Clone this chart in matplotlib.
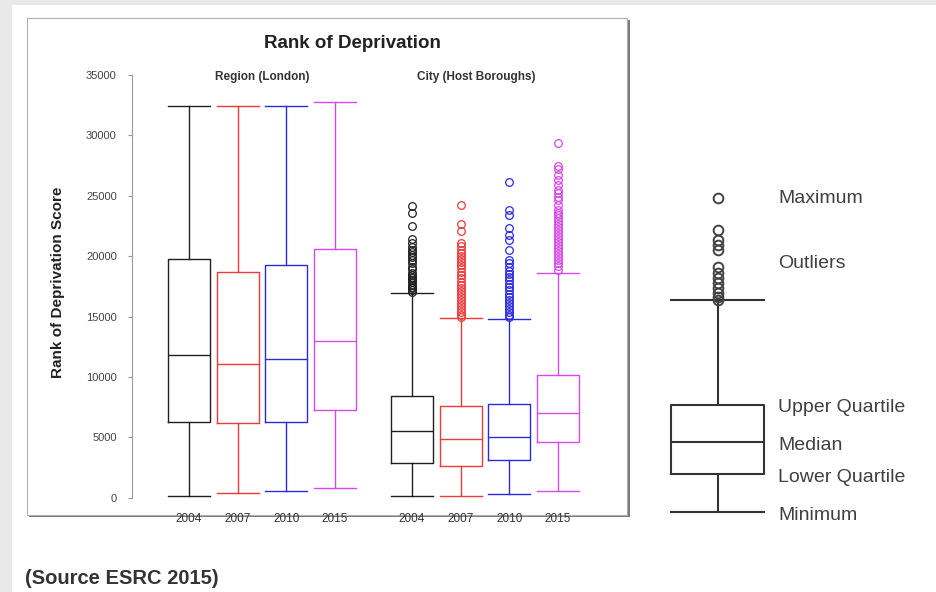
"""
Rank of Deprivation box plots (Region vs City) with an explanatory key.
"""
import matplotlib
matplotlib.use("Agg")
import matplotlib.pyplot as plt
from matplotlib.patches import Rectangle

plt.rcParams["font.family"] = ["Liberation Sans", "DejaVu Sans"]

# Box plot summaries
years = ["2004", "2007", "2010", "2015"]
colors = ["#202020", "#ee3a3a", "#2a2ae0", "#d54ae8"]

region_min = [150, 390, 580, 780]
region_q1 = [6290, 6160, 6290, 7260]
region_med = [11790, 11100, 11480, 12980]
region_q3 = [19770, 18710, 19240, 20590]
region_max = [32460, 32430, 32430, 32790]

city_min = [170, 170, 330, 580]
city_q1 = [2870, 2630, 3100, 4640]
city_med = [5500, 4840, 5030, 7010]
city_q3 = [8450, 7570, 7760, 10160]
city_whishi = [16920, 14880, 14800, 18600]

city_out_2004 = [24150, 23600, 22520, 21420, 21090, 20760, 20500, 20370, 20100,
                 19900, 19680, 19400, 19130, 18900, 18600, 18450, 18300, 18150,
                 18030, 17850, 17610, 17480, 17360, 17200, 17060]
city_out_2007 = [24235, 22660, 22110, 21090, 20800, 20500, 20250, 20000, 19750,
                 19500, 19250, 19000, 18700, 18450, 18200, 17900, 17650, 17400,
                 17150, 16900, 16650, 16400, 16150, 15900, 15650, 15400, 15150,
                 15000]
city_out_2010 = [26165, 23820, 23410, 22300, 21750, 21340, 20510, 19680, 19400,
                 19100, 18800, 18500, 18250, 18000, 17700, 17450, 17200, 16900,
                 16650, 16400, 16150, 15900, 15650, 15400, 15150, 14950]
city_out_2015 = [29370, 27460, 27200, 26720, 26300, 25890, 25500, 25200, 24900,
                 24650, 24235, 23820, 23600, 23410, 23150, 22900, 22650, 22400,
                 22150, 21900, 21650, 21400, 21150, 20900, 20650, 20400, 20150,
                 19900, 19650, 19400, 19150, 18850]
city_outliers = [city_out_2004, city_out_2007, city_out_2010, city_out_2015]

# Key (explanatory box) in its own arbitrary units
key_labels = ["Maximum", "Outliers", "Upper Quartile", "Median", "Lower Quartile", "Minimum"]
key_min, key_q1, key_med, key_q3, key_whishi = 18, 56, 88, 125, 230
key_outliers = [331.7, 300, 290, 285, 280, 263.3, 257, 252, 247, 242, 237, 233.3, 230]

W, H = 937, 592


def fx(px):
    return px / W


def fy(py):
    return 1 - py / H


fig = plt.figure(figsize=(W / 100, H / 100), dpi=100)
fig.patch.set_facecolor("white")

# grey page strips and the chart panel (behind the axes)
fig.patches.append(Rectangle((0, 0), fx(12), 1, transform=fig.transFigure,
                             facecolor="#e9e9e9", edgecolor="none", zorder=-10))
fig.patches.append(Rectangle((0, fy(5)), 1, 1, transform=fig.transFigure,
                             facecolor="#e9e9e9", edgecolor="none", zorder=-10))
fig.patches.append(Rectangle((fx(29), fy(517)), fx(601), fy(20) - fy(517),
                             transform=fig.transFigure, facecolor="#7a7a7a",
                             edgecolor="none", zorder=-9))
fig.patches.append(Rectangle((fx(27), fy(515)), fx(600), fy(18) - fy(515),
                             transform=fig.transFigure, facecolor="white",
                             edgecolor="#b0b0b0", linewidth=0.8, zorder=-8))


def make_stats(lo, q1, med, q3, hi, fl, labels):
    out = []
    for i in range(len(labels)):
        out.append({"whislo": lo[i], "q1": q1[i], "med": med[i], "q3": q3[i],
                    "whishi": hi[i], "fliers": fl[i], "label": labels[i]})
    return out


# Main axes
ax = fig.add_axes([fx(132), fy(497.7), fx(468), fy(75) - fy(497.7)])
ax.set_facecolor("none")

region_stats = make_stats(region_min, region_q1, region_med, region_q3, region_max,
                          [[], [], [], []], years)
city_stats = make_stats(city_min, city_q1, city_med, city_q3, city_whishi,
                        city_outliers, years)

region_pos = [0, 1, 2, 3]
city_pos = [4.58, 5.58, 6.58, 7.58]

for stats, positions in ((region_stats, region_pos), (city_stats, city_pos)):
    for st, pos, c in zip(stats, positions, colors):
        ax.bxp([st], positions=[pos], widths=0.86, showfliers=True,
               boxprops=dict(color=c, linewidth=1.0),
               whiskerprops=dict(color=c, linewidth=1.0),
               capprops=dict(color=c, linewidth=1.0),
               medianprops=dict(color=c, linewidth=1.0),
               flierprops=dict(marker="o", markerfacecolor="none",
                               markeredgecolor=c, markersize=5.5,
                               markeredgewidth=0.9),
               capwidths=0.86)

ax.set_xlim(-1.17, 8.44)
ax.set_ylim(0, 35000)
ax.set_yticks(range(0, 35001, 5000))
ax.set_xticks(region_pos + city_pos)
ax.set_xticklabels(years + years, fontsize=8.5, color="#333333")
ax.tick_params(axis="x", length=0, pad=11)
ax.tick_params(axis="y", labelsize=8, labelcolor="#444444", color="#999999",
               length=3, pad=8)
for s in ("top", "right", "bottom"):
    ax.spines[s].set_visible(False)
ax.spines["left"].set_color("#999999")
ax.spines["left"].set_linewidth(0.8)

fig.text(fx(58), fy(282), "Rank of Deprivation Score", rotation=90, ha="center",
         va="center", fontsize=11, fontweight="bold", color="#222222")
fig.text(fx(352), fy(44), "Rank of Deprivation", ha="center", va="center",
         fontsize=13.5, fontweight="bold", color="#222222")
fig.text(fx(262), fy(77), "Region (London)", ha="center", va="center",
         fontsize=8.5, fontweight="bold", color="#333333")
fig.text(fx(476), fy(77), "City (Host Boroughs)", ha="center", va="center",
         fontsize=8.5, fontweight="bold", color="#333333")
fig.text(fx(25), fy(578), "(Source ESRC 2015)", ha="left", va="center",
         fontsize=14.5, fontweight="bold", color="#333333")

# Key axes
kax = fig.add_axes([fx(640), fy(530), fx(297), fy(170) - fy(530)])
kax.set_facecolor("none")
kax.set_xlim(640, 937)
kax.set_ylim(0, 360)
kax.bxp([{"whislo": key_min, "q1": key_q1, "med": key_med, "q3": key_q3,
          "whishi": key_whishi, "fliers": key_outliers}],
        positions=[718], widths=93, capwidths=93,
        boxprops=dict(color="#333333", linewidth=1.5),
        whiskerprops=dict(color="#333333", linewidth=1.5),
        capprops=dict(color="#333333", linewidth=1.5),
        medianprops=dict(color="#333333", linewidth=1.5),
        flierprops=dict(marker="o", markerfacecolor="none", markeredgecolor="#444444",
                        markersize=7, markeredgewidth=1.4))
kax.axis("off")

key_y = [max(key_outliers) + 3, 270, key_q3, key_med, key_q1, key_min]
for lab, yv in zip(key_labels, key_y):
    kax.text(778, yv - 3, lab, ha="left", va="center", fontsize=14, color="#404040")

fig.savefig("out.png", dpi=100)
